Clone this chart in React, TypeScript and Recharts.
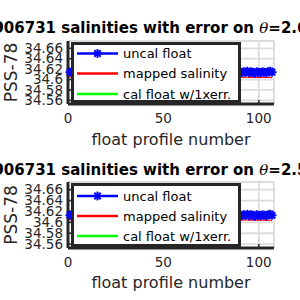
import React from 'react';
import { LineChart, Line, XAxis, YAxis, CartesianGrid, Legend } from 'recharts';

const FLOAT_ID = '6906731';
const THETA_LEVELS = ['2.6', '2.5'];
const X_TICKS = [0, 50, 100];
const Y_TICKS = [34.56, 34.58, 34.6, 34.62, 34.64, 34.66];
const SERIES_NAMES = ['uncal float', 'mapped salinity', 'cal float w/1xerr.'];
const SERIES_COLORS = ['#0000ff', '#ff0000', '#00ff00'];

const PROFILES: number[] = Array.from({ length: 107 }, (_, i) => i + 1);

const UNCAL_26 = [
  34.614, 34.616, 34.613, 34.615, 34.612, 34.617, 34.614, 34.611, 34.615, 34.613,
  34.616, 34.612, 34.614, 34.617, 34.613, 34.615, 34.611, 34.614, 34.616, 34.612,
  34.615, 34.613, 34.617, 34.614, 34.612, 34.616, 34.613, 34.615, 34.611, 34.614,
  34.616, 34.613, 34.615, 34.612, 34.617, 34.614, 34.612, 34.615, 34.613, 34.616,
  34.611, 34.614, 34.616, 34.613, 34.615, 34.612, 34.614, 34.617, 34.613, 34.615,
  34.612, 34.614, 34.616, 34.613, 34.611, 34.615, 34.614, 34.616, 34.612, 34.615,
  34.613, 34.617, 34.614, 34.612, 34.615, 34.613, 34.616, 34.611, 34.614, 34.615,
  34.613, 34.616, 34.612, 34.614, 34.617, 34.613, 34.615, 34.612, 34.614, 34.616,
  34.613, 34.615, 34.611, 34.614, 34.616, 34.612, 34.615, 34.613, 34.617, 34.614,
  34.613, 34.615, 34.614, 34.616, 34.613, 34.615, 34.614, 34.612, 34.615, 34.614,
  34.613, 34.615, 34.614, 34.613, 34.615, 34.616, 34.614,
];
const MAPPED_26 = [
  34.6048, 34.6050, 34.6045, 34.6047, 34.6051, 34.6046, 34.6044, 34.6049, 34.6050, 34.6046,
  34.6045, 34.6048, 34.6051, 34.6047, 34.6044, 34.6046, 34.6049, 34.6050, 34.6045, 34.6047,
  34.6048, 34.6046, 34.6044, 34.6049, 34.6051, 34.6047, 34.6045, 34.6046, 34.6050, 34.6048,
  34.6045, 34.6047, 34.6049, 34.6046, 34.6044, 34.6048, 34.6050, 34.6047, 34.6045, 34.6046,
  34.6049, 34.6051, 34.6047, 34.6045, 34.6046, 34.6048, 34.6050, 34.6046, 34.6044, 34.6047,
  34.6049, 34.6046, 34.6045, 34.6048, 34.6050, 34.6047, 34.6045, 34.6046, 34.6049, 34.6047,
  34.6044, 34.6046, 34.6048, 34.6050, 34.6047, 34.6045, 34.6046, 34.6049, 34.6048, 34.6045,
  34.6044, 34.6047, 34.6049, 34.6046, 34.6045, 34.6048, 34.6050, 34.6047, 34.6045, 34.6044,
  34.6046, 34.6048, 34.6047, 34.6045, 34.6043, 34.6046, 34.6048, 34.6045, 34.6044, 34.6046,
  34.6045, 34.6043, 34.6046, 34.6044, 34.6042, 34.6045, 34.6043, 34.6041, 34.6044, 34.6042,
  34.6040, 34.6043, 34.6041, 34.6039, 34.6042, 34.6040, 34.6038,
];
const CAL_26: (number | null)[] = [];

const UNCAL_25 = [
  34.613, 34.615, 34.612, 34.614, 34.611, 34.616, 34.613, 34.610, 34.614, 34.612,
  34.615, 34.611, 34.613, 34.616, 34.612, 34.614, 34.610, 34.613, 34.615, 34.611,
  34.614, 34.612, 34.616, 34.613, 34.611, 34.615, 34.612, 34.614, 34.610, 34.613,
  34.615, 34.612, 34.614, 34.611, 34.616, 34.613, 34.611, 34.614, 34.612, 34.615,
  34.610, 34.613, 34.615, 34.612, 34.614, 34.611, 34.613, 34.616, 34.612, 34.614,
  34.611, 34.613, 34.615, 34.612, 34.610, 34.614, 34.613, 34.615, 34.611, 34.614,
  34.612, 34.616, 34.613, 34.611, 34.614, 34.612, 34.615, 34.610, 34.613, 34.614,
  34.612, 34.615, 34.611, 34.613, 34.616, 34.612, 34.614, 34.611, 34.613, 34.615,
  34.612, 34.614, 34.610, 34.613, 34.615, 34.611, 34.614, 34.612, 34.616, 34.613,
  34.612, 34.614, 34.613, 34.615, 34.612, 34.614, 34.613, 34.611, 34.614, 34.613,
  34.612, 34.614, 34.613, 34.612, 34.614, 34.615, 34.613,
];
const MAPPED_25 = [
  34.6047, 34.6049, 34.6044, 34.6046, 34.6050, 34.6045, 34.6043, 34.6048, 34.6049, 34.6045,
  34.6044, 34.6047, 34.6050, 34.6046, 34.6043, 34.6045, 34.6048, 34.6049, 34.6044, 34.6046,
  34.6047, 34.6045, 34.6043, 34.6048, 34.6050, 34.6046, 34.6044, 34.6045, 34.6049, 34.6047,
  34.6044, 34.6046, 34.6048, 34.6045, 34.6043, 34.6047, 34.6049, 34.6046, 34.6044, 34.6045,
  34.6048, 34.6050, 34.6046, 34.6044, 34.6045, 34.6047, 34.6049, 34.6045, 34.6043, 34.6046,
  34.6048, 34.6045, 34.6044, 34.6047, 34.6049, 34.6046, 34.6044, 34.6045, 34.6048, 34.6046,
  34.6043, 34.6045, 34.6047, 34.6049, 34.6046, 34.6044, 34.6045, 34.6048, 34.6047, 34.6044,
  34.6043, 34.6046, 34.6048, 34.6045, 34.6044, 34.6047, 34.6049, 34.6046, 34.6044, 34.6043,
  34.6045, 34.6047, 34.6046, 34.6044, 34.6042, 34.6045, 34.6047, 34.6044, 34.6043, 34.6045,
  34.6044, 34.6042, 34.6045, 34.6043, 34.6041, 34.6044, 34.6042, 34.6040, 34.6043, 34.6041,
  34.6039, 34.6042, 34.6040, 34.6038, 34.6041, 34.6039, 34.6037,
];
const CAL_25: (number | null)[] = [];

const FONT = "'DejaVu Sans', sans-serif";
const AX = '#262626';

const StarDot = (props: any) => {
  const { cx, cy, index } = props;
  if (cx == null || cy == null) return <g key={`s-${index}`} />;
  const r = 4.4;
  const d = r * 0.72;
  return (
    <g key={`s-${index}`} stroke="#0000ff" strokeWidth={2}>
      <line x1={cx - r} y1={cy} x2={cx + r} y2={cy} />
      <line x1={cx} y1={cy - r} x2={cx} y2={cy + r} />
      <line x1={cx - d} y1={cy - d} x2={cx + d} y2={cy + d} />
      <line x1={cx - d} y1={cy + d} x2={cx + d} y2={cy - d} />
    </g>
  );
};

const LegendBox = ({ height, rows }: { height: number; rows: number[] }) => (
  <svg width={170} height={height} style={{ display: 'block' }}>
    <rect x={1.5} y={1.5} width={167} height={height - 3} fill="#fff" stroke={AX} strokeWidth={3} />
    {SERIES_NAMES.map((name, i) => (
      <g key={name}>
        <line x1={6} y1={rows[i]} x2={47} y2={rows[i]} stroke={SERIES_COLORS[i]} strokeWidth={2.5} />
        {i === 0 && <StarDot cx={26.5} cy={rows[i]} index={99} />}
        <text x={52} y={rows[i]} dy="0.35em" fontFamily={FONT} fontSize={13} fill="#000">
          {name}
        </text>
      </g>
    ))}
  </svg>
);

type PanelProps = {
  top: number;
  theta: string;
  uncal: number[];
  mapped: number[];
  cal: (number | null)[];
  plotTop: number;
  xAxisHeight: number;
  xLabelOffset: number;
  titleTop: number;
  legendTop: number;
  legendHeight: number;
  legendRows: number[];
};

const Panel = (p: PanelProps) => {
  const data = PROFILES.map((prof, i) => ({
    profile: prof,
    uncal: p.uncal[i],
    mapped: p.mapped[i],
    cal: p.cal[i] ?? null,
  }));
  const yDomain: [number, number] = [34.553, 34.674];
  return (
    <div style={{ position: 'absolute', left: 0, top: p.top, width: 300, height: 150 }}>
      <LineChart
        width={300}
        height={150}
        data={data}
        margin={{ top: p.plotTop, right: 26, bottom: 0, left: 8 }}
      >
        <CartesianGrid stroke="#dcdcdc" strokeWidth={1.8} />
        <XAxis
          dataKey="profile"
          type="number"
          domain={[0, 108]}
          ticks={X_TICKS}
          interval={0}
          height={p.xAxisHeight}
          tickSize={-4}
          tickMargin={13}
          axisLine={{ stroke: AX, strokeWidth: 3 }}
          tickLine={{ stroke: AX, strokeWidth: 1.5 }}
          tick={{ fontFamily: FONT, fontSize: 13.5, fill: AX }}
          label={{
            value: 'float profile number',
            position: 'insideBottom',
            offset: p.xLabelOffset,
            style: { fontFamily: FONT, fontSize: 16, fill: AX },
          }}
        />
        <XAxis
          xAxisId="top"
          orientation="top"
          dataKey="profile"
          type="number"
          domain={[0, 108]}
          ticks={X_TICKS}
          interval={0}
          height={0}
          tickSize={-4}
          tick={false}
          axisLine={{ stroke: AX, strokeWidth: 3 }}
          tickLine={{ stroke: AX, strokeWidth: 1.5 }}
        />
        <YAxis
          type="number"
          domain={yDomain}
          ticks={Y_TICKS}
          interval={0}
          width={60}
          tickSize={-4}
          tickMargin={9}
          axisLine={{ stroke: AX, strokeWidth: 3 }}
          tickLine={{ stroke: AX, strokeWidth: 1.5 }}
          tick={{ fontFamily: FONT, fontSize: 13.5, fill: AX }}
          label={{
            value: 'PSS-78',
            angle: -90,
            position: 'insideLeft',
            offset: 3,
            style: { textAnchor: 'middle', fontFamily: FONT, fontSize: 17, fill: AX },
          }}
        />
        <YAxis
          yAxisId="right"
          orientation="right"
          type="number"
          domain={yDomain}
          ticks={Y_TICKS}
          interval={0}
          width={0}
          tickSize={-4}
          tick={false}
          axisLine={{ stroke: AX, strokeWidth: 3 }}
          tickLine={{ stroke: AX, strokeWidth: 1.5 }}
        />
        <Line
          dataKey="uncal"
          name={SERIES_NAMES[0]}
          stroke={SERIES_COLORS[0]}
          strokeWidth={2.5}
          dot={StarDot}
          isAnimationActive={false}
        />
        <Line
          dataKey="mapped"
          name={SERIES_NAMES[1]}
          stroke={SERIES_COLORS[1]}
          strokeWidth={1.2}
          dot={false}
          isAnimationActive={false}
        />
        <Line
          dataKey="cal"
          name={SERIES_NAMES[2]}
          stroke={SERIES_COLORS[2]}
          strokeWidth={1.5}
          dot={false}
          isAnimationActive={false}
        />
        <Legend
          layout="vertical"
          align="center"
          verticalAlign="middle"
          wrapperStyle={{ left: 71, top: p.legendTop, width: 170, height: p.legendHeight }}
          content={() => <LegendBox height={p.legendHeight} rows={p.legendRows} />}
        />
      </LineChart>
      <div
        style={{
          position: 'absolute',
          left: -17,
          top: p.titleTop,
          whiteSpace: 'nowrap',
          fontFamily: FONT,
          fontWeight: 'bold',
          fontSize: 15,
          lineHeight: '15px',
          color: '#000',
          pointerEvents: 'none',
        }}
      >
        {FLOAT_ID} salinities with error on{' '}
        <span style={{ fontFamily: "'DejaVu Serif', serif", fontStyle: 'italic', fontWeight: 'normal' }}>θ</span>=
        {p.theta}°C
      </div>
    </div>
  );
};

export default function App() {
  return (
    <div
      style={{
        position: 'absolute',
        left: 0,
        top: 0,
        width: 300,
        height: 300,
        overflow: 'hidden',
        background: '#fff',
      }}
    >
      <Panel
        top={0}
        theta={THETA_LEVELS[0]}
        uncal={UNCAL_26}
        mapped={MAPPED_26}
        cal={CAL_26}
        plotTop={41}
        xAxisHeight={46}
        xLabelOffset={5}
        titleTop={21}
        legendTop={42}
        legendHeight={61}
        legendRows={[11.5, 31.5, 52]}
      />
      <Panel
        top={150}
        theta={THETA_LEVELS[1]}
        uncal={UNCAL_25}
        mapped={MAPPED_25}
        cal={CAL_25}
        plotTop={32}
        xAxisHeight={52}
        xLabelOffset={12}
        titleTop={13}
        legendTop={33}
        legendHeight={64}
        legendRows={[13, 33, 53]}
      />
    </div>
  );
}
